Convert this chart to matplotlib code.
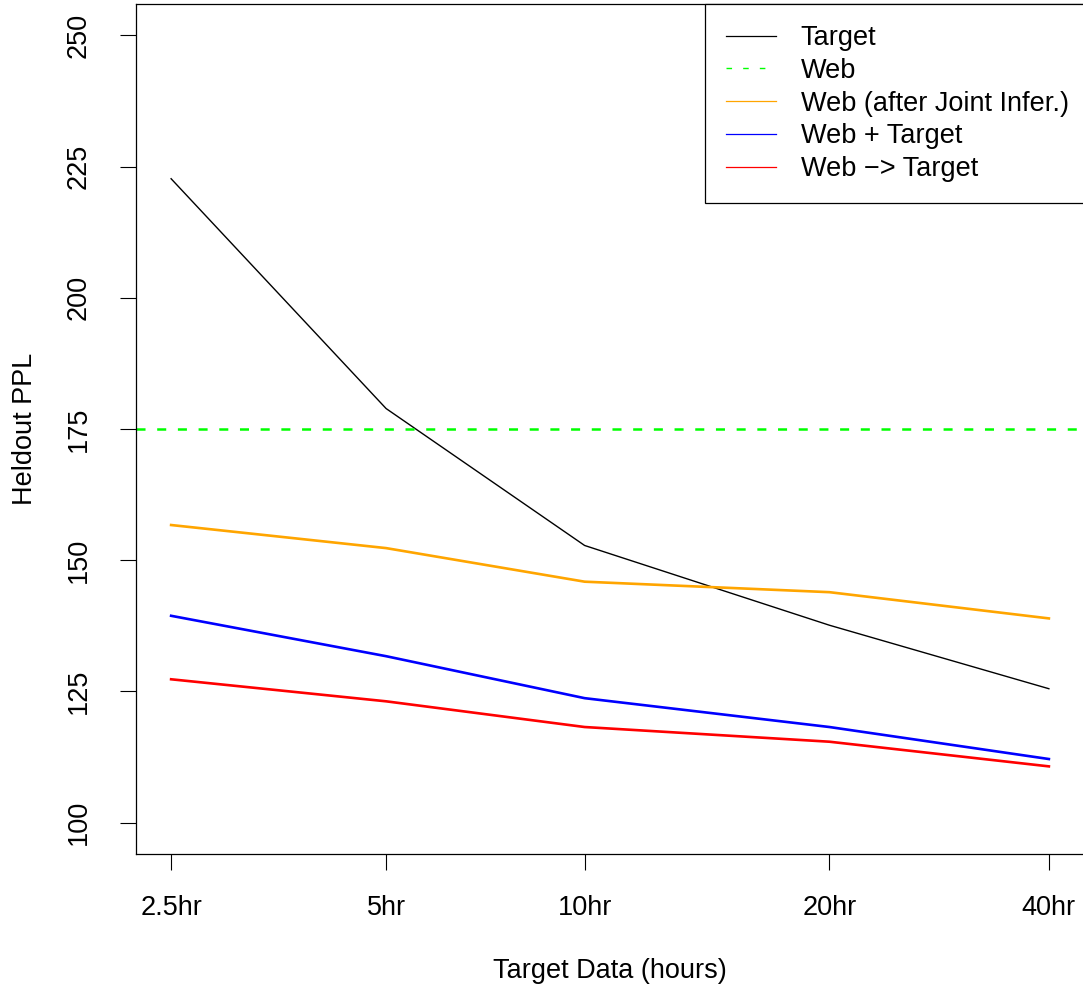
import numpy as np
import matplotlib
matplotlib.use("Agg")
import matplotlib.pyplot as plt
from matplotlib.lines import Line2D

# data: heldout perplexity vs amount of target data
hours = [2.5, 4.93, 9.23, 20, 40]
hour_labels = ["2.5hr", "5hr", "10hr", "20hr", "40hr"]
target = [222.7, 178.9, 152.8, 137.6, 125.5]
web = 175.0
web_joint = [156.7, 152.3, 145.9, 143.9, 138.9]
web_plus_target = [139.4, 131.7, 123.7, 118.2, 112.1]
web_then_target = [127.3, 123.1, 118.2, 115.4, 110.7]
yticks = [100, 125, 150, 175, 200, 225, 250]

plt.rcParams['font.family'] = ['Liberation Sans', 'DejaVu Sans']
plt.rcParams['lines.scale_dashes'] = False
fs = 19.5

fig = plt.figure(figsize=(10.83, 9.86), dpi=100)
ax = fig.add_axes([136/1083, (986-854)/986, 948/1083, 850/986])

ax.plot(hours, target, color='black', lw=1.0)
ax.axhline(web, color='#00FF00', lw=1.8, dashes=(6.5, 8.4))
ax.plot(hours, web_joint, color='#FFA500', lw=1.9)
ax.plot(hours, web_plus_target, color='#0000FF', lw=1.9)
ax.plot(hours, web_then_target, color='#FF0000', lw=1.9)

# log-scaled x axis with 4% padding on each side
ax.set_xscale('log', base=2)
lo = np.log2(hours[0]); hi = np.log2(hours[-1])
ext = 0.04 * (hi - lo)
ax.set_xlim(2 ** (lo - ext), 2 ** (hi + ext))
ax.set_ylim(94, 256)
ax.minorticks_off()
ax.set_xticks(hours)
ax.set_xticklabels(hour_labels, fontsize=fs)
ax.set_yticks(yticks)
ax.set_yticklabels([str(v) for v in yticks], fontsize=fs, rotation=90, va='center')
ax.tick_params(axis='x', length=11.5, width=0.8, pad=18)
ax.tick_params(axis='y', length=11.5, width=0.8, pad=20.5)
for s in ax.spines.values():
    s.set_linewidth(0.9)

ax.set_xlabel("Target Data (hours)", fontsize=fs, labelpad=27)
ax.set_ylabel("Heldout PPL", fontsize=fs, labelpad=20)

handles = [
    Line2D([], [], color='black', lw=0.9),
    Line2D([], [], color='#00FF00', lw=1.0, dashes=(4, 8)),
    Line2D([], [], color='#FFA500', lw=0.9),
    Line2D([], [], color='#0000FF', lw=0.9),
    Line2D([], [], color='#FF0000', lw=0.9),
]
labels = ["Target", "Web", "Web (after Joint Infer.)", "Web + Target", "Web \u2212> Target"]
leg = ax.legend(handles, labels, loc='upper right',
                bbox_to_anchor=(1 + 6/948, 1),
                borderaxespad=0, fontsize=fs, frameon=True, fancybox=False,
                edgecolor='black', framealpha=1, handlelength=1.85,
                handletextpad=0.9, labelspacing=0.25, borderpad=0.78)
leg.get_frame().set_linewidth(0.9)

fig.savefig("out.png", dpi=100)
